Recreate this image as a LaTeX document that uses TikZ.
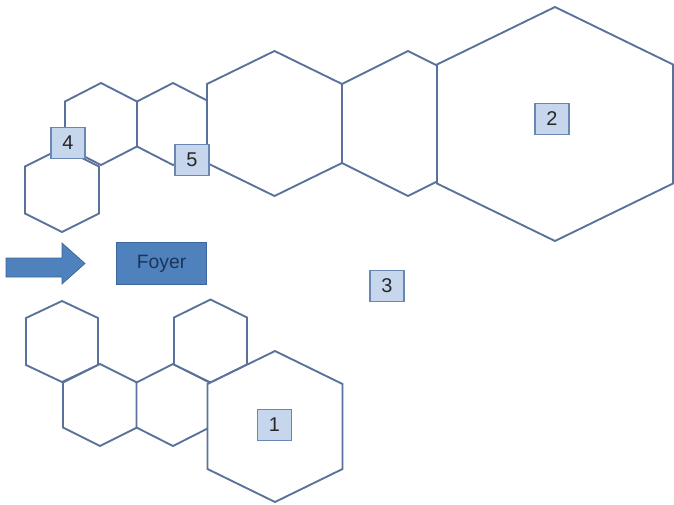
\documentclass[tikz,border=0pt]{standalone}
\usepackage{fontspec}
\setmainfont{Liberation Sans}
\definecolor{hexLine}{HTML}{5A729B}
\definecolor{boxFill}{HTML}{C6D6EC}
\definecolor{boxLine}{HTML}{6A86B2}
\definecolor{foyerFill}{HTML}{4F81BD}
\definecolor{foyerLine}{HTML}{3B659B}
\definecolor{foyerText}{HTML}{1C3557}

\begin{document}
\begin{tikzpicture}
[x=0.03cm,y=-0.03cm,%
  hexDecorate/.style={draw=hexLine,fill=white,line width=1.6pt,line join=miter},%
  labelDecorate/.style={shape=rectangle,draw=boxLine,fill=boxFill,line width=1pt,
    inner sep=0pt,minimum width=29pt,minimum height=27pt,
    font=\fontsize{17}{19}\selectfont,text=black!85},%
  foyerDecorate/.style={shape=rectangle,draw=foyerLine,fill=foyerFill,line width=1pt,
    inner sep=0pt,minimum width=77pt,minimum height=36pt,
    font=\fontsize{16.5}{18}\selectfont,text=foyerText}]
\useasboundingbox (0,0) rectangle (674,504);
%% hexagons: name/centre x/centre y/half width/half height/half side
\foreach \hexname/\x/\y/\w/\h/\s in {
  hA/101/124/36/41/22.5, hB/62/190/37/42/23.5, hC/173/124/36/41/22.5,
  hD/274.5/123.5/67.5/72.5/39.5, hE/408/123.5/66/72.5/39.5,
  hF/555/124/118/117/59.5,
  hG/62/341.5/36/40.5/23.5, hH/100/405/37/41/22.5, hI/173/405/36.5/41/22.5,
  hK/210.5/341/36.5/41.5/23.5, hJ/275/426.5/67.5/75.5/42.5}
{
  \coordinate (\hexname) at (\x,\y);
  \draw[hexDecorate] (\x,\y-\h) -- (\x+\w,\y-\s) -- (\x+\w,\y+\s)
    -- (\x,\y+\h) -- (\x-\w,\y+\s) -- (\x-\w,\y-\s) -- cycle;
}
%% entrance arrow
\draw[draw=foyerLine,fill=foyerFill,line width=0.6pt]
  (6,258) -- (62,258) -- (62,243) -- (85,263.5) -- (62,284) -- (62,277)
  -- (6,277) -- cycle;
%% labels
\node (foyer) at (161.5,263.5) [foyerDecorate] {Foyer};
\foreach \nodename/\x/\y in {
  4/68/143, 5/192/160, 2/552/119, 3/387/286, 1/274.5/425}
{
  \node (l\nodename) at (\x,\y) [labelDecorate] {\nodename};
}
\end{tikzpicture}
\end{document}
